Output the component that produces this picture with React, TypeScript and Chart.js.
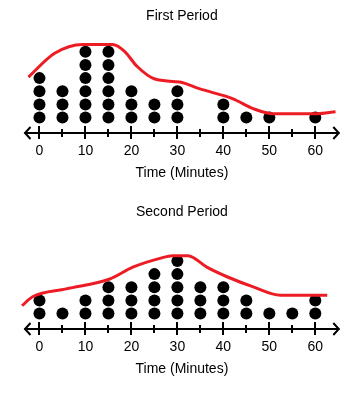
import React, { useEffect, useRef } from "react";
import { Chart, registerables } from "chart.js";

Chart.register(...registerables);
Chart.defaults.font.family = "'Liberation Sans', Arial, sans-serif";
Chart.defaults.color = "#000";

// ---- Data ----
const minutes = [0, 5, 10, 15, 20, 25, 30, 35, 40, 45, 50, 55, 60];
const firstPeriodCounts = [4, 3, 6, 6, 3, 2, 3, 0, 2, 1, 1, 0, 1];
const secondPeriodCounts = [2, 1, 2, 3, 3, 4, 5, 3, 3, 2, 1, 1, 2];

const majorTicks = [0, 10, 20, 30, 40, 50, 60];
const minorTicks = [5, 15, 25, 35, 45, 55];

// hand-drawn red outline (x in minutes, y in dot rows)
const firstCurveX = [-2.4, 3.3, 9.4, 15.9, 18.5, 21.2, 25.1, 30.5, 34.9, 42.1, 46.5, 50.8, 60.4, 64.4];
const firstCurveY = [4.08, 5.89, 6.56, 6.56, 6.04, 4.9, 3.93, 3.7, 3.18, 2.43, 1.68, 1.3, 1.3, 1.45];
const secondCurveX = [-3.8, -1.5, 5.8, 15.3, 20.3, 26.2, 29, 32.3, 36.4, 40.8, 46.5, 52.4, 62.6];
const secondCurveY = [1.6, 2.28, 2.88, 3.63, 4.53, 5.2, 5.4, 5.4, 4.53, 3.8, 3.03, 2.4, 2.4];

const firstTitle = "First Period";
const secondTitle = "Second Period";
const axisTitle = "Time (Minutes)";

const RED = "#ed1c24";

const numberLinePlugin = {
  id: "numberLine",
  beforeDatasetsDraw(chart: any) {
    const { ctx, chartArea } = chart;
    const xs = chart.scales.x;
    const y = Math.round(chartArea.bottom);
    ctx.save();
    ctx.strokeStyle = "#000";
    ctx.lineWidth = 2;
    ctx.lineCap = "butt";
    ctx.beginPath();
    ctx.moveTo(chartArea.left, y);
    ctx.lineTo(chartArea.right, y);
    ctx.stroke();
    // arrows
    ctx.beginPath();
    ctx.moveTo(chartArea.left + 6, y - 6);
    ctx.lineTo(chartArea.left + 0.5, y);
    ctx.lineTo(chartArea.left + 6, y + 6);
    ctx.moveTo(chartArea.right - 6, y - 6);
    ctx.lineTo(chartArea.right - 0.5, y);
    ctx.lineTo(chartArea.right - 6, y + 6);
    ctx.stroke();
    // ticks
    ctx.beginPath();
    majorTicks.forEach((v) => {
      const px = Math.round(xs.getPixelForValue(v));
      ctx.moveTo(px, y - 7);
      ctx.lineTo(px, y + 6);
    });
    minorTicks.forEach((v) => {
      const px = Math.round(xs.getPixelForValue(v));
      ctx.moveTo(px, y - 4);
      ctx.lineTo(px, y + 4);
    });
    ctx.stroke();
    ctx.restore();
  },
};

function buildDots(counts: number[]) {
  const pts: { x: number; y: number }[] = [];
  minutes.forEach((m, i) => {
    for (let k = 1; k <= counts[i]; k++) pts.push({ x: m, y: k });
  });
  return pts;
}

function DotPlot(props: {
  title: string;
  counts: number[];
  curveX: number[];
  curveY: number[];
  height: number;
  bottomPad: number;
}) {
  const ref = useRef<HTMLCanvasElement>(null);
  useEffect(() => {
    if (!ref.current) return;
    const chart = new Chart(ref.current, {
      type: "scatter",
      data: {
        datasets: [
          {
            type: "line",
            data: props.curveX.map((x, i) => ({ x, y: props.curveY[i] })),
            borderColor: RED,
            borderWidth: 3,
            pointRadius: 0,
            fill: false,
            cubicInterpolationMode: "monotone",
            clip: false as any,
            order: 0,
          } as any,
          {
            type: "scatter",
            data: buildDots(props.counts),
            backgroundColor: "#000",
            borderWidth: 0,
            pointRadius: 6,
            order: 1,
          } as any,
        ],
      },
      options: {
        animation: false,
        responsive: false,
        events: [],
        layout: { padding: { left: 24.5, right: 13.7, top: 0, bottom: props.bottomPad } },
        scales: {
          x: {
            type: "linear",
            min: -3.26,
            max: 65.22,
            afterBuildTicks: (scale: any) => {
              scale.ticks = majorTicks.map((v) => ({ value: v }));
            },
            afterFit: (scale: any) => {
              scale.height = 48.4;
            },
            ticks: { font: { size: 14 }, color: "#000", padding: 10, maxRotation: 0 },
            grid: { display: false, drawTicks: false },
            border: { display: false },
            title: {
              display: true,
              text: axisTitle,
              font: { size: 14 },
              color: "#000",
              padding: { top: 4, bottom: 0 },
            },
          },
          y: { type: "linear", display: false, min: -0.17, max: 7.55 },
        },
        plugins: {
          legend: { display: false },
          tooltip: { enabled: false },
          title: {
            display: true,
            text: props.title,
            font: { size: 14, weight: "normal" },
            color: "#000",
            padding: { top: 8, bottom: 6.6 },
          },
        },
      } as any,
      plugins: [numberLinePlugin],
    });
    return () => chart.destroy();
  }, []);
  return <canvas ref={ref} width={353} height={props.height} style={{ display: "block" }} />;
}

export default function App() {
  return (
    <div style={{ position: "absolute", top: 0, left: 0, width: 353, height: 396, background: "#fff" }}>
      <DotPlot title={firstTitle} counts={firstPeriodCounts} curveX={firstCurveX} curveY={firstCurveY} height={196} bottomPad={14.6} />
      <DotPlot title={secondTitle} counts={secondPeriodCounts} curveX={secondCurveX} curveY={secondCurveY} height={200} bottomPad={18.6} />
    </div>
  );
}
